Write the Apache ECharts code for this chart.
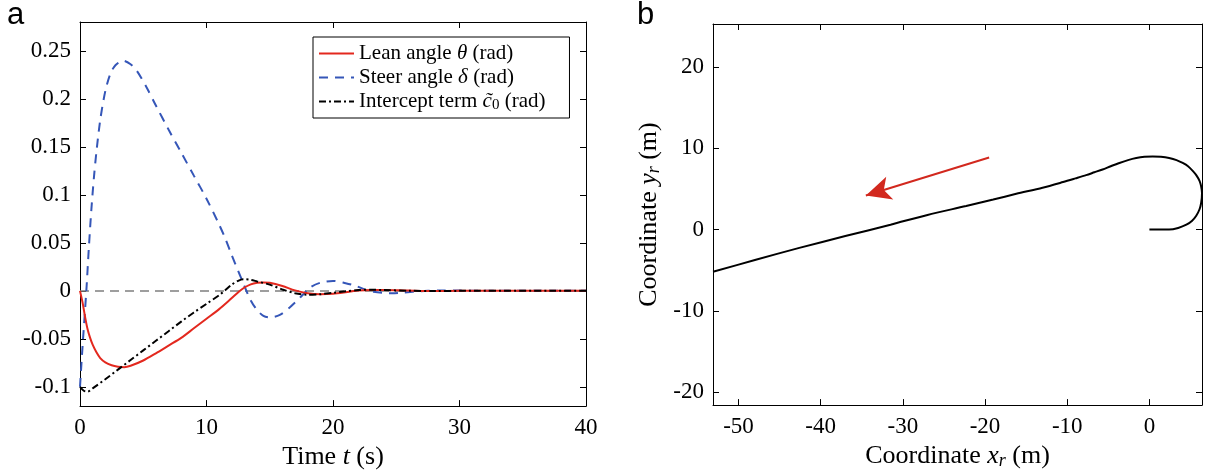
<!DOCTYPE html>
<html>
<head>
<meta charset="utf-8">
<script src="https://cdn.jsdelivr.net/npm/echarts@6/dist/echarts.min.js"></script>
<style>html,body{margin:0;padding:0;background:#fff;}#c{width:1207px;height:475px;}</style>
</head>
<body>
<div id="c"></div>
<script>
// ---------- Panel a: time responses ----------
const leanT = [0,0.2,0.4,0.6,0.8,1.0,1.3,1.6,2.0,2.5,3.0,3.5,4.0,5.0,6.0,7.0,8.0,9.0,10,11,12,12.6,13,13.5,14,14.5,15,16,17,18,19,20,21,22,23,24,26,28,30,35,40];
const leanV = [0,-0.012,-0.027,-0.040,-0.049,-0.056,-0.064,-0.070,-0.0745,-0.0775,-0.079,-0.0795,-0.078,-0.0725,-0.065,-0.057,-0.049,-0.039,-0.029,-0.019,-0.0075,-0.0005,0.0035,0.0068,0.0084,0.0088,0.0084,0.005,0.0005,-0.0025,-0.0035,-0.003,-0.0015,0.0003,0.001,0.001,0.0003,-0.0002,0,0,0];

const steerT = [0,0.2,0.5,0.7,0.9,1.1,1.3,1.6,2.0,2.4,2.8,3.4,4.0,4.5,5.3,6,7,8,9,10,11,11.5,12,12.5,13,13.5,14,14.5,15,15.8,16.6,17.4,18.2,19,20,21,21.8,22.6,23.2,24,24.7,25.5,26.3,27.5,28.5,30,32,40];
const steerV = [-0.1,-0.058,0,0.045,0.085,0.118,0.145,0.178,0.208,0.226,0.235,0.2397,0.236,0.229,0.211,0.193,0.168,0.144,0.12,0.096,0.069,0.054,0.037,0.021,0.005,-0.01,-0.02,-0.026,-0.0276,-0.025,-0.017,-0.007,0.0035,0.0085,0.0104,0.008,0.0052,0.001,-0.001,-0.0022,-0.0024,-0.0018,-0.001,0,0.0005,0.0003,0,0];

const interceptT = [0,0.3,0.6,1,2,3,4,5,6,7,8,9,10,11,11.5,12,12.5,12.9,13.5,14,15,16,17,18,19,20,21,22,23,24,26,28,30,40];
const interceptV = [-0.1,-0.104,-0.105,-0.1015,-0.092,-0.082,-0.072,-0.062,-0.052,-0.042,-0.032,-0.0225,-0.0135,-0.0045,0.001,0.0065,0.0105,0.0121,0.0115,0.0098,0.0065,0.0015,-0.0025,-0.004,-0.0035,-0.002,-0.0005,0.0008,0.0012,0.0008,0.0002,-0.0002,0,0];

const timeTicks = [0,10,20,30,40];
const angleTicks = [-0.1,-0.05,0,0.05,0.1,0.15,0.2,0.25];

// ---------- Panel b: trajectory ----------
const pathX = [0,1.2,2.4,3.5,4.5,5.2,5.7,6.1,6.3,6.4,6.3,6.1,5.7,5.3,4.7,4.05,3.3,2.4,1.4,0.4,-0.6,-1.6,-2.6,-3.65,-4.7,-5.7,-6.7,-7.7,-9,-10.5,-13,-16.2,-19,-22.3,-27,-31.5,-37,-42.6,-48,-53.1];
const pathY = [0,0,0,0.2,0.6,1.1,1.7,2.5,3.3,4.5,5.3,6.0,6.7,7.2,7.8,8.2,8.55,8.8,8.95,9.0,8.95,8.8,8.55,8.2,7.8,7.4,7.05,6.7,6.3,5.85,5.15,4.4,3.7,2.9,1.8,0.6,-0.8,-2.25,-3.75,-5.2];
const arrowX = [-19.5,-34.5];
const arrowY = [8.87,4.2];
const xrTicks = [-50,-40,-30,-20,-10,0];
const yrTicks = [-20,-10,0,10,20];

const SERIF = '"Liberation Serif","DejaVu Serif",serif';
const zip = (a, b) => a.map((v, i) => [v, b[i]]);

function boxAxes(gridIndex, min, max, ticks, isX, showLabels, extra) {
  return Object.assign({
    type: 'value', gridIndex, min, max,
    axisLine: { show: true, onZero: false, lineStyle: { color: '#000', width: 1 } },
    axisTick: { show: true, inside: true, length: 6, customValues: ticks, lineStyle: { color: '#000', width: 1 } },
    axisLabel: { show: showLabels, customValues: ticks, color: '#000', fontFamily: SERIF, fontSize: 23, margin: isX ? 10 : 9 },
    splitLine: { show: false }
  }, extra || {});
}

const titleRich = {
  t: { fontFamily: SERIF, fontSize: 26, color: '#000' },
  i: { fontFamily: SERIF, fontSize: 26, fontStyle: 'italic', color: '#000' },
  s: { fontFamily: SERIF, fontSize: 18, fontStyle: 'italic', color: '#000', padding: [10, 0, 0, 0] }
};

const legendNames = {
  'Lean angle θ (rad)': '{t|Lean angle }{i|θ}{t| (rad)}',
  'Steer angle δ (rad)': '{t|Steer angle }{i|δ}{t| (rad)}',
  'Intercept term c0 (rad)': '{t|Intercept term }{i|c\u0303}{s|0}{t| (rad)}'
};

const option = {
  backgroundColor: '#fff',
  animation: false,
  graphic: [
    { type: 'text', left: 7, top: 0, style: { text: 'a', font: '31px "Liberation Sans", Arial, sans-serif', fill: '#000' } },
    { type: 'text', left: 637, top: 0, style: { text: 'b', font: '31px "Liberation Sans", Arial, sans-serif', fill: '#000' } }
  ],
  grid: [
    { left: 80, top: 22, width: 506, height: 386 },
    { left: 713, top: 24, width: 489, height: 386 }
  ],
  legend: {
    orient: 'vertical', left: 313, top: 37,
    itemWidth: 35, itemHeight: 14, itemGap: 3,
    padding: [6, 24, 5, 5],
    borderColor: '#000', borderWidth: 1, backgroundColor: '#fff',
    itemStyle: { opacity: 0 },
    data: Object.keys(legendNames),
    formatter: n => legendNames[n],
    textStyle: {
      color: '#000', fontFamily: SERIF, fontSize: 21,
      rich: {
        t: { fontFamily: SERIF, fontSize: 21, color: '#000' },
        i: { fontFamily: SERIF, fontSize: 21, fontStyle: 'italic', color: '#000' },
        s: { fontFamily: SERIF, fontSize: 15, color: '#000', padding: [8, 0, 0, 0] }
      }
    }
  },
  xAxis: [
    boxAxes(0, 0, 40, timeTicks, true, true, {
      position: 'bottom',
      name: '{t|Time }{i|t}{t| (s)}', nameLocation: 'middle', nameGap: 34,
      nameTextStyle: { rich: titleRich }
    }),
    boxAxes(0, 0, 40, timeTicks, true, false, { position: 'top' }),
    boxAxes(1, -53.1, 6.4, xrTicks, true, true, {
      position: 'bottom',
      name: '{t|Coordinate }{i|x}{s|r}{t| (m)}', nameLocation: 'middle', nameGap: 36,
      nameTextStyle: { rich: titleRich }
    }),
    boxAxes(1, -53.1, 6.4, xrTicks, true, false, { position: 'top' })
  ],
  yAxis: [
    boxAxes(0, -0.12, 0.28, angleTicks, false, true, { position: 'left' }),
    boxAxes(0, -0.12, 0.28, angleTicks, false, false, { position: 'right' }),
    boxAxes(1, -21.6, 25.3, yrTicks, false, true, {
      position: 'left',
      name: '{t|Coordinate }{i|y}{s|r}{t| (m)}', nameLocation: 'middle', nameGap: 50, nameRotate: 90,
      nameTextStyle: { rich: titleRich }
    }),
    boxAxes(1, -21.6, 25.3, yrTicks, false, false, { position: 'right' })
  ],
  series: [
    {
      name: 'Lean angle θ (rad)', type: 'line', xAxisIndex: 0, yAxisIndex: 0,
      data: zip(leanT, leanV), showSymbol: false, symbol: 'none', smooth: 0.3,
      lineStyle: { color: '#e3281e', width: 2 }, itemStyle: { color: '#e3281e' }, z: 3,
      markLine: {
        silent: true, symbol: ['none', 'none'], label: { show: false }, z: 1,
        lineStyle: { color: '#7f7f7f', type: [9, 6], width: 1.5 },
        data: [{ yAxis: 0 }]
      }
    },
    {
      name: 'Steer angle δ (rad)', type: 'line', xAxisIndex: 0, yAxisIndex: 0,
      data: zip(steerT, steerV), showSymbol: false, symbol: 'none', smooth: 0.3,
      lineStyle: { color: '#3556b8', width: 2, type: [9, 7] }, itemStyle: { color: '#3556b8' }, z: 2
    },
    {
      name: 'Intercept term c0 (rad)', type: 'line', xAxisIndex: 0, yAxisIndex: 0,
      data: zip(interceptT, interceptV), showSymbol: false, symbol: 'none', smooth: 0.3,
      lineStyle: { color: '#000', width: 2, type: [7, 3, 2, 3] }, itemStyle: { color: '#000' }, z: 4
    },
    {
      name: 'path', type: 'line', xAxisIndex: 2, yAxisIndex: 2,
      data: zip(pathX, pathY), showSymbol: false, symbol: 'none', smooth: 0.3,
      lineStyle: { color: '#000', width: 2 }
    },
    {
      name: 'arrow', type: 'line', xAxisIndex: 2, yAxisIndex: 2,
      data: [], showSymbol: false,
      markLine: {
        silent: true, symbol: ['none', 'arrow'], symbolSize: [18, 25], label: { show: false },
        lineStyle: { color: '#d2281e', width: 2, type: 'solid' },
        data: [[{ coord: [arrowX[0], arrowY[0]] }, { coord: [arrowX[1], arrowY[1]] }]]
      }
    }
  ]
};

const chart = echarts.init(document.getElementById('c'), null, { renderer: 'canvas' });
chart.setOption(option);
</script>
</body>
</html>
